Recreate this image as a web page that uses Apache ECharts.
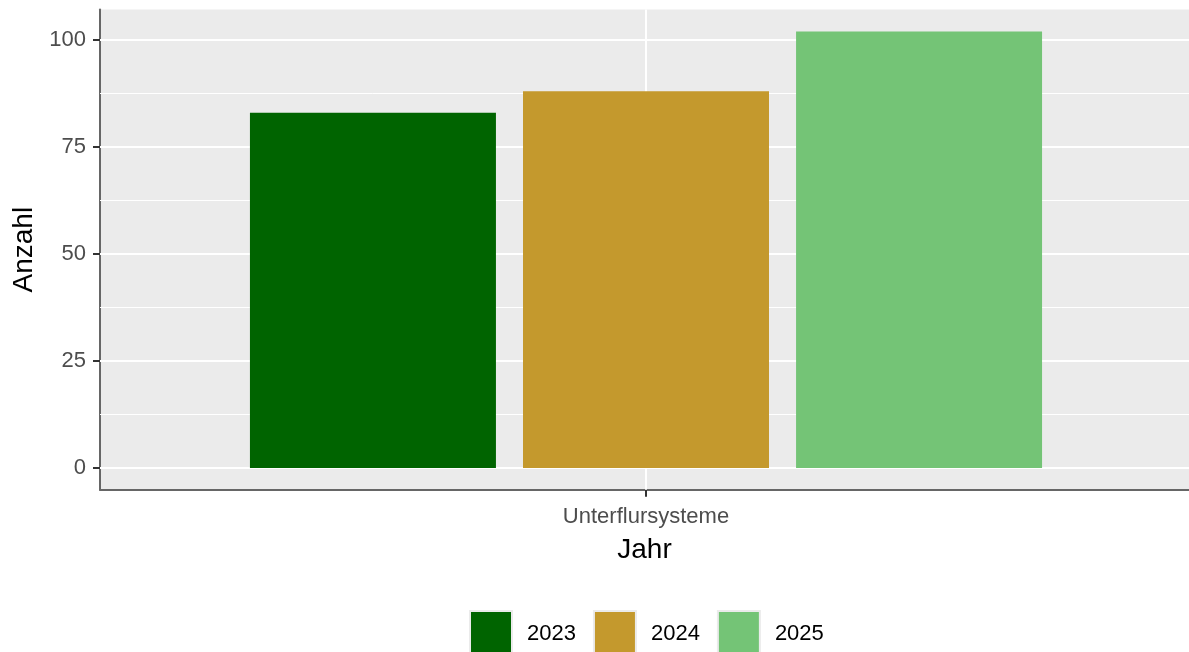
<!DOCTYPE html>
<html>
<head>
<meta charset="utf-8">
<script src="https://cdn.jsdelivr.net/npm/echarts@6/dist/echarts.min.js"></script>
<style>html,body{margin:0;padding:0;background:#fff;}#c{width:1189px;height:652px;}</style>
</head>
<body>
<div id="c"></div>
<script>
const categories = ['Unterflursysteme'];
const years = ['2023', '2024', '2025'];
const values = [83, 88, 102];
const colors = ['#006400', '#C4992D', '#74C476'];
const yTicks = [0, 25, 50, 75, 100];
const yMinor = [12.5, 37.5, 62.5, 87.5];
const yMin = -5.1, yMax = 107.1;
// discrete x scale: category i sits at position i+1, panel spans 0.4 .. ~1.6 (right edge cut by the canvas)
const xPos = categories.map((c, i) => i + 1);
const xMin = 0.4, xMax = 1.5967;

const FONT = 'Liberation Sans, Arial, sans-serif';
const chart = echarts.init(document.getElementById('c'), null, {renderer: 'canvas'});

const barSeries = years.map((y, i) => ({
  name: y,
  type: 'bar',
  data: categories.map((c, k) => [xPos[k], values[i]]),
  barWidth: 246,
  barGap: '11%',
  itemStyle: {color: colors[i]},
  z: 2
}));

const gridSeries = {
  type: 'line',
  data: [],
  z: 1,
  silent: true,
  markLine: {
    silent: true,
    z: 1,
    symbol: 'none',
    label: {show: false},
    animation: false,
    data: [
      ...yMinor.map(v => ({yAxis: v, lineStyle: {color: '#ffffff', width: 1, type: 'solid'}})),
      ...yTicks.map(v => ({yAxis: v, lineStyle: {color: '#ffffff', width: 2, type: 'solid'}})),
      ...xPos.map(v => ({xAxis: v, lineStyle: {color: '#ffffff', width: 2, type: 'solid'}}))
    ]
  }
};

chart.setOption({
  animation: false,
  backgroundColor: '#ffffff',
  textStyle: {fontFamily: FONT},
  grid: {
    left: 100, right: 0, top: 9.6, bottom: 162.2,
    show: true, backgroundColor: '#EBEBEB', borderWidth: 0,
    containLabel: false
  },
  legend: {
    data: years.map((y, i) => ({name: y, itemStyle: {color: colors[i], borderColor: '#EBEBEB', borderWidth: 2}})),
    left: 469, top: 610, padding: 0,
    itemWidth: 42, itemHeight: 46, itemGap: 17,
    icon: 'rect',
    selectedMode: false,
    textStyle: {fontFamily: FONT, fontSize: 22, color: '#000', padding: [0, 0, 0, 10]}
  },
  xAxis: {
    type: 'value',
    min: xMin, max: xMax,
    name: 'Jahr',
    nameLocation: 'middle',
    nameGap: 46,
    nameTextStyle: {fontFamily: FONT, fontSize: 28, color: '#000'},
    axisLine: {show: true, onZero: false, lineStyle: {color: '#666666', width: 2}},
    axisTick: {show: true, customValues: xPos, length: 7, lineStyle: {color: '#333333', width: 2}},
    axisLabel: {customValues: xPos, formatter: v => categories[Math.round(v) - 1] || '', fontFamily: FONT, fontSize: 22, color: '#4D4D4D', margin: 16},
    splitLine: {show: false},
    minorSplitLine: {show: false}
  },
  yAxis: {
    type: 'value',
    min: yMin, max: yMax,
    name: 'Anzahl',
    nameLocation: 'middle',
    nameGap: 60,
    nameTextStyle: {fontFamily: FONT, fontSize: 28, color: '#000'},
    axisLine: {show: true, onZero: false, lineStyle: {color: '#666666', width: 2}},
    axisTick: {show: true, customValues: yTicks, length: 7, lineStyle: {color: '#333333', width: 2}},
    axisLabel: {customValues: yTicks, fontFamily: FONT, fontSize: 22, color: '#4D4D4D', margin: 14},
    splitLine: {show: false},
    minorSplitLine: {show: false}
  },
  series: [gridSeries, ...barSeries]
});
</script>
</body>
</html>
